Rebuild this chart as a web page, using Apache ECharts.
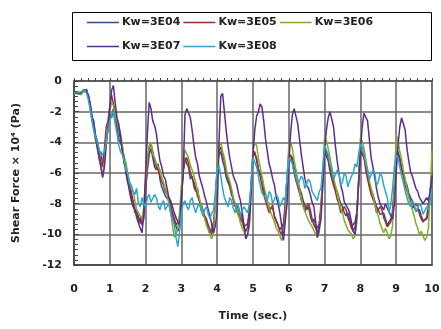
<!DOCTYPE html>
<html><head><meta charset="utf-8">
<script src="https://cdn.jsdelivr.net/npm/echarts@6/dist/echarts.min.js"></script>
<style>html,body{margin:0;padding:0;background:#fff}#c{width:441px;height:329px}</style>
</head><body><div id="c"></div>
<script>
const time = [0,0.05,0.1,0.15,0.2,0.25,0.3,0.35,0.4,0.45,0.5,0.55,0.6,0.65,0.7,0.75,0.8,0.85,0.9,0.95,
1,1.05,1.1,1.15,1.2,1.25,1.3,1.35,1.4,1.45,1.5,1.55,1.6,1.65,1.7,1.75,1.8,1.85,1.9,1.95,
2,2.05,2.1,2.15,2.2,2.25,2.3,2.35,2.4,2.45,2.5,2.55,2.6,2.65,2.7,2.75,2.8,2.85,2.9,2.95,
3,3.05,3.1,3.15,3.2,3.25,3.3,3.35,3.4,3.45,3.5,3.55,3.6,3.65,3.7,3.75,3.8,3.85,3.9,3.95,
4,4.05,4.1,4.15,4.2,4.25,4.3,4.35,4.4,4.45,4.5,4.55,4.6,4.65,4.7,4.75,4.8,4.85,4.9,4.95,
5,5.05,5.1,5.15,5.2,5.25,5.3,5.35,5.4,5.45,5.5,5.55,5.6,5.65,5.7,5.75,5.8,5.85,5.9,5.95,
6,6.05,6.1,6.15,6.2,6.25,6.3,6.35,6.4,6.45,6.5,6.55,6.6,6.65,6.7,6.75,6.8,6.85,6.9,6.95,
7,7.05,7.1,7.15,7.2,7.25,7.3,7.35,7.4,7.45,7.5,7.55,7.6,7.65,7.7,7.75,7.8,7.85,7.9,7.95,
8,8.05,8.1,8.15,8.2,8.25,8.3,8.35,8.4,8.45,8.5,8.55,8.6,8.65,8.7,8.75,8.8,8.85,8.9,8.95,
9,9.05,9.1,9.15,9.2,9.25,9.3,9.35,9.4,9.45,9.5,9.55,9.6,9.65,9.7,9.75,9.8,9.85,9.9,9.95,10];
const seriesNames = ['Kw=3E04','Kw=3E05','Kw=3E06','Kw=3E07','Kw=3E08'];
const kw3E04 = [-0.75,-0.8,-0.8,-0.85,-0.8,-0.6,-0.65,-0.55,-1.0,-1.4,-2.3,-2.6,-3.5,-3.9,-4.8,-4.6,-5.4,-4.9,-3.6,-3.2,
-2.2,-2.4,-1.8,-2.6,-3.0,-3.8,-4.0,-4.3,-5.4,-5.6,-6.6,-6.8,-7.6,-7.8,-8.6,-8.4,-9.2,-8.9,-9.4,-9.0,
-7.0,-5.8,-4.8,-4.4,-5.0,-5.6,-5.8,-5.4,-6.4,-6.9,-7.0,-7.5,-7.6,-7.8,-8.4,-8.8,-9.2,-9.1,-9.8,-9.4,
-7.4,-5.8,-5.0,-5.4,-5.6,-6.4,-6.2,-6.9,-7.2,-7.0,-7.8,-8.4,-8.6,-8.5,-9.2,-9.6,-9.9,-9.6,-9.2,-8.0,
-5.6,-4.8,-4.6,-5.2,-5.6,-6.3,-6.6,-6.9,-7.4,-7.5,-8.0,-8.5,-8.8,-8.6,-9.0,-9.5,-9.6,-9.3,-8.4,-6.8,
-4.6,-4.8,-5.0,-5.7,-6.0,-6.3,-7.0,-7.6,-7.8,-8.3,-8.4,-8.3,-8.8,-9.1,-9.2,-9.7,-9.6,-9.3,-8.0,-6.3,
-4.8,-4.7,-5.0,-5.6,-6.0,-6.6,-7.0,-7.3,-7.8,-8.1,-8.4,-8.2,-8.8,-9.2,-9.0,-9.4,-9.6,-9.3,-8.4,-6.6,
-4.4,-4.6,-5.0,-5.6,-6.0,-6.6,-7.0,-7.2,-7.6,-8.0,-8.2,-8.6,-8.8,-8.6,-9.0,-9.5,-9.4,-9.2,-8.6,-6.8,
-4.6,-4.5,-5.0,-5.5,-6.0,-6.8,-7.2,-7.4,-7.8,-8.2,-8.4,-8.7,-8.8,-8.6,-9.0,-9.4,-9.4,-9.0,-8.8,-7.0,
-4.8,-4.6,-5.0,-5.6,-6.0,-6.5,-6.8,-7.3,-7.6,-7.8,-8.2,-8.5,-8.6,-8.4,-8.8,-9.1,-9.2,-9.0,-8.6,-7.4,-6.0];
const kw3E05 = [-0.8,-0.85,-0.8,-0.9,-0.85,-0.65,-0.7,-0.6,-1.0,-1.6,-2.4,-3.0,-3.8,-4.0,-4.6,-5.3,-5.6,-4.4,-3.0,-2.6,
-1.6,-0.9,-1.0,-2.0,-2.8,-3.1,-3.8,-4.5,-4.9,-5.8,-6.4,-6.6,-7.2,-7.9,-8.3,-8.6,-8.8,-9.3,-9.2,-8.6,
-7.2,-5.6,-4.4,-4.1,-4.6,-5.2,-5.6,-5.8,-6.2,-6.5,-6.8,-7.2,-7.4,-7.6,-8.0,-8.6,-8.9,-9.4,-9.5,-9.0,
-7.6,-6.0,-5.2,-5.0,-5.4,-6.0,-6.3,-6.6,-7.0,-7.5,-7.8,-8.0,-8.4,-8.8,-9.0,-9.4,-9.7,-10.0,-9.4,-7.8,
-5.8,-4.6,-4.3,-4.8,-5.2,-5.9,-6.4,-6.7,-7.2,-7.8,-8.2,-8.0,-8.6,-9.0,-9.2,-9.6,-9.8,-9.5,-8.6,-6.6,
-4.8,-4.6,-5.2,-5.8,-6.2,-6.8,-7.4,-7.8,-8.2,-8.6,-8.3,-8.1,-8.9,-9.0,-9.4,-9.8,-10.0,-9.6,-8.2,-6.4,
-5.0,-4.8,-5.4,-6.0,-6.5,-6.9,-7.3,-7.8,-8.0,-8.5,-8.2,-8.0,-8.4,-9.0,-9.4,-9.6,-9.9,-9.4,-8.0,-6.2,
-4.6,-4.7,-5.2,-5.9,-6.4,-6.8,-7.2,-7.7,-8.0,-8.6,-8.4,-8.2,-8.4,-8.9,-9.2,-9.6,-9.8,-9.5,-8.6,-6.6,
-4.8,-4.6,-5.0,-5.8,-6.4,-6.9,-7.4,-7.7,-8.0,-8.6,-8.6,-8.2,-8.4,-8.9,-9.2,-9.5,-9.6,-9.2,-8.4,-6.8,
-5.0,-4.8,-5.2,-5.8,-6.2,-6.8,-7.2,-7.5,-7.8,-8.3,-8.4,-8.0,-8.2,-8.7,-9.0,-9.2,-9.3,-8.9,-8.0,-7.2,-6.2];
const kw3E06 = [-0.8,-0.9,-0.85,-0.95,-0.9,-0.7,-0.6,-0.7,-1.1,-1.8,-2.6,-3.1,-3.9,-4.3,-5.0,-5.6,-6.2,-5.2,-3.8,-2.8,
-2.0,-1.4,-1.6,-2.2,-2.6,-3.0,-3.4,-4.2,-5.0,-5.3,-6.0,-6.6,-7.0,-7.2,-7.8,-8.4,-8.6,-8.8,-9.0,-8.2,
-6.4,-5.0,-4.2,-4.0,-4.8,-5.0,-5.4,-5.5,-5.8,-6.3,-6.6,-7.0,-7.4,-8.0,-8.6,-9.4,-10.2,-10.0,-9.6,-8.6,
-6.8,-5.4,-4.5,-4.6,-5.0,-5.5,-5.8,-6.2,-6.6,-7.2,-7.6,-8.1,-8.6,-9.0,-9.4,-9.7,-10.1,-10.3,-9.8,-8.0,
-5.4,-4.2,-4.0,-4.6,-5.0,-5.7,-6.2,-6.5,-7.0,-7.6,-8.0,-8.3,-8.8,-9.3,-9.6,-9.8,-10.2,-10.0,-9.4,-7.0,
-4.4,-4.0,-4.2,-5.0,-5.6,-6.2,-6.8,-7.3,-7.8,-8.3,-8.6,-8.9,-9.2,-9.6,-9.8,-10.1,-10.4,-10.0,-8.8,-6.4,
-4.2,-4.0,-4.4,-5.2,-5.8,-6.4,-7.0,-7.7,-8.2,-8.5,-8.8,-9.1,-9.2,-9.5,-9.6,-10.0,-10.2,-9.9,-8.6,-6.0,
-3.6,-3.9,-4.4,-5.0,-5.6,-6.3,-6.8,-7.2,-7.8,-8.3,-8.6,-9.1,-9.4,-9.7,-9.6,-10.0,-10.3,-10.1,-9.2,-6.4,
-3.7,-3.9,-4.4,-5.1,-5.8,-6.5,-7.0,-7.4,-8.0,-8.5,-8.8,-9.3,-9.6,-9.9,-9.6,-9.9,-10.3,-10.1,-9.4,-6.6,
-3.5,-3.9,-4.6,-5.1,-5.8,-6.4,-7.0,-7.6,-8.0,-8.4,-8.8,-9.3,-9.6,-10.0,-9.8,-10.1,-10.4,-10.2,-9.6,-7.2,-4.5];
const kw3E07 = [-0.8,-0.85,-0.8,-0.8,-0.75,-0.7,-0.6,-0.5,-0.9,-1.5,-2.3,-2.8,-3.6,-4.4,-5.0,-5.6,-6.3,-5.6,-4.2,-3.0,
-1.8,-0.6,-0.3,-1.4,-2.4,-2.8,-3.6,-4.6,-5.2,-6.0,-6.6,-7.2,-7.8,-8.2,-8.4,-8.9,-9.0,-9.6,-9.9,-8.6,
-6.0,-3.4,-1.4,-1.8,-2.6,-2.9,-3.4,-4.4,-5.2,-5.6,-6.2,-6.4,-7.0,-7.6,-7.8,-8.2,-8.6,-8.9,-9.2,-9.4,
-9.5,-6.0,-2.2,-1.8,-1.9,-2.4,-3.2,-4.2,-5.0,-5.4,-6.2,-6.6,-7.0,-7.5,-7.9,-8.4,-8.8,-9.4,-9.9,-9.4,
-8.5,-4.0,-1.0,-0.8,-2.0,-3.2,-4.2,-5.0,-5.6,-6.2,-6.3,-6.8,-7.4,-7.8,-8.6,-9.4,-10.3,-10.0,-9.2,-7.2,
-4.8,-3.2,-2.3,-2.0,-1.5,-1.7,-2.6,-3.8,-4.6,-5.4,-5.8,-6.4,-6.8,-7.6,-8.0,-8.6,-9.4,-10.4,-10.3,-8.0,
-5.5,-3.4,-2.2,-1.8,-1.8,-2.8,-3.8,-4.8,-5.6,-6.4,-6.8,-7.0,-7.4,-7.9,-8.2,-9.2,-10.2,-10.3,-9.0,-6.8,
-4.5,-3.2,-2.4,-2.0,-1.9,-3.0,-4.2,-5.2,-6.0,-6.8,-7.2,-7.9,-8.1,-8.3,-8.6,-9.2,-9.8,-10.0,-8.8,-6.6,
-4.5,-3.0,-2.1,-2.0,-2.6,-3.8,-5.0,-5.6,-6.3,-7.0,-7.6,-8.0,-8.2,-8.4,-8.0,-8.3,-8.4,-8.8,-9.0,-8.0,
-6.0,-4.2,-3.0,-2.4,-2.3,-3.2,-4.4,-5.2,-5.9,-6.2,-6.6,-7.0,-7.2,-7.6,-7.7,-8.0,-8.1,-7.6,-7.8,-7.2,-6.2];
const kw3E08 = [-0.8,-0.8,-0.75,-0.7,-0.7,-0.6,-0.6,-0.8,-1.2,-1.8,-2.5,-3.2,-3.6,-4.0,-4.4,-4.9,-5.0,-4.6,-4.0,-3.2,
-2.6,-2.2,-2.0,-2.8,-3.4,-4.2,-4.6,-4.8,-5.2,-5.8,-6.0,-6.6,-6.8,-7.2,-7.4,-7.0,-8.0,-8.2,-7.6,-8.0,
-8.2,-7.6,-7.4,-7.9,-8.0,-7.4,-7.6,-8.1,-8.4,-8.0,-7.8,-8.4,-8.2,-8.0,-8.6,-9.0,-9.4,-10.2,-10.8,-9.8,
-8.6,-8.0,-7.8,-8.2,-8.4,-7.8,-7.6,-8.2,-8.6,-8.2,-8.0,-8.4,-8.8,-8.4,-8.2,-8.7,-9.0,-8.6,-8.4,-7.2,
-5.8,-5.5,-6.2,-7.0,-7.6,-7.9,-8.2,-7.6,-7.8,-8.3,-8.6,-8.0,-8.2,-8.7,-8.8,-8.2,-8.4,-8.6,-8.0,-6.6,
-5.0,-5.0,-5.6,-6.2,-6.8,-7.3,-7.2,-7.6,-7.8,-7.2,-7.4,-8.0,-8.0,-7.4,-7.6,-8.2,-8.2,-7.6,-7.8,-6.4,
-5.0,-5.0,-5.4,-5.9,-6.2,-6.8,-6.8,-6.2,-6.4,-7.0,-7.0,-6.4,-6.6,-7.2,-7.2,-7.6,-7.8,-7.2,-7.0,-5.6,
-4.2,-4.3,-4.8,-5.4,-5.8,-6.4,-6.4,-5.8,-6.0,-6.8,-6.6,-6.0,-6.2,-6.9,-6.8,-6.2,-6.0,-5.4,-5.6,-4.8,
-4.1,-4.3,-4.8,-5.4,-5.8,-6.4,-6.4,-5.8,-6.0,-6.8,-6.6,-6.0,-6.2,-6.8,-6.8,-7.6,-8.6,-8.0,-7.0,-5.6,
-4.8,-5.0,-5.6,-6.2,-6.6,-7.2,-7.6,-8.0,-8.2,-7.8,-8.0,-8.5,-8.6,-8.0,-8.2,-8.7,-8.8,-8.2,-8.4,-7.8,-7.0];
const seriesValues = [kw3E04, kw3E05, kw3E06, kw3E07, kw3E08];
const colors = ['#2B4F8F','#A52A2A','#7FAF2A','#5B2C8F','#2FA6CC'];

const chart = echarts.init(document.getElementById('c'), null, {renderer:'canvas'});
const font = 'DejaVu Sans';
const lbl = {fontFamily: font, fontWeight: 'bold', fontSize: 11, color: '#222'};
const legendCommon = {
  orient: 'horizontal', icon: 'rect', itemWidth: 32, itemHeight: 1.5, itemGap: 3,
  textStyle: {fontFamily: font, fontWeight: 'bold', fontSize: 11, color: '#222', width: 80, padding: [0,0,0,-2]},
  padding: 0
};
chart.setOption({
  animation: false,
  backgroundColor: '#fff',
  color: colors,
  graphic: [{type: 'rect', shape: {x: 72.5, y: 12.5, width: 359, height: 48}, style: {fill: 'none', stroke: '#000', lineWidth: 1}}],
  legend: [
    Object.assign({data: seriesNames.slice(0,3), left: 87, top: 17}, legendCommon),
    Object.assign({data: seriesNames.slice(3), left: 87, top: 41}, legendCommon)
  ],
  grid: {left: 74, right: 9, top: 81, bottom: 64, containLabel: false, outerBoundsMode: 'none', show: true, borderColor: '#777', borderWidth: 1.5},
  xAxis: [{
    type: 'value', min: 0, max: 10, interval: 1, position: 'bottom',
    name: 'Time (sec.)', nameLocation: 'middle', nameGap: 46, nameTextStyle: lbl,
    axisLine: {show: true, onZero: false, lineStyle: {color: '#444', width: 1.5}},
    axisTick: {show: false},
    axisLabel: Object.assign({margin: 19}, lbl),
    splitLine: {show: true, lineStyle: {color: '#666', width: 1.5}}
  }, {
    type: 'value', min: 0, max: 10, interval: 1, position: 'top',
    axisLine: {show: true, onZero: false, lineStyle: {color: '#555', width: 1.5}},
    axisTick: {show: true, inside: false, length: 3, lineStyle: {color: '#444', width: 1}},
    minorTick: {show: true, splitNumber: 5, length: 3, lineStyle: {color: '#444', width: 1}},
    axisLabel: {show: false}, splitLine: {show: false}
  }],
  yAxis: {
    type: 'value', min: -12, max: 0, interval: 2,
    name: 'Shear Force × 10⁴ (Pa)', nameLocation: 'middle', nameGap: 52, nameTextStyle: lbl,
    axisLine: {show: true, onZero: false, lineStyle: {color: '#444', width: 1.5}},
    axisTick: {show: true, inside: true, length: 5, lineStyle: {color: '#444', width: 1}},
    minorTick: {show: true, splitNumber: 6, length: 4, lineStyle: {color: '#444', width: 1}},
    axisLabel: Object.assign({margin: 12}, lbl),
    splitLine: {show: true, lineStyle: {color: '#666', width: 1.5}}
  },
  series: seriesNames.map((n, i) => ({
    name: n, type: 'line', xAxisIndex: 0, symbol: 'none',
    lineStyle: {width: 1.5, color: colors[i]},
    itemStyle: {color: colors[i]},
    data: time.map((t, j) => [t, seriesValues[i][j]])
  }))
});
</script></body></html>
